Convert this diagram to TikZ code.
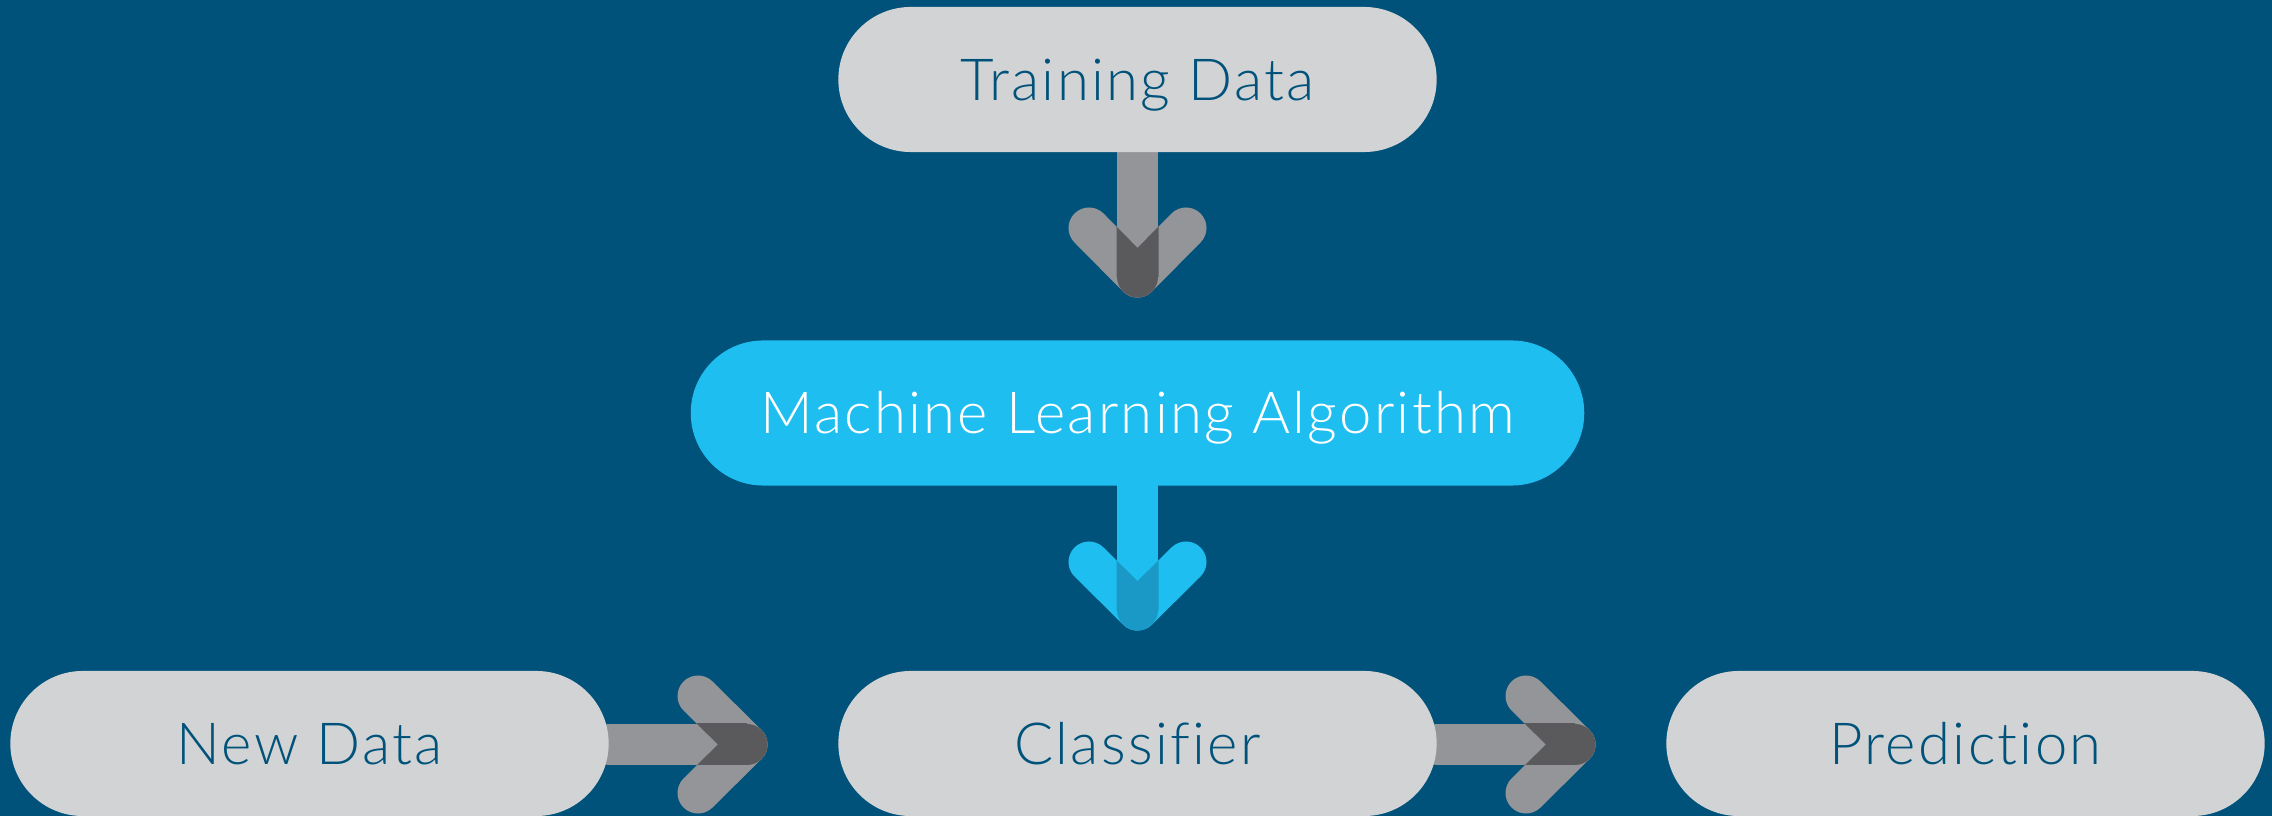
\documentclass[tikz,border=0pt]{standalone}
\usepackage{fontspec}
\setmainfont{Lato}[UprightFont=* Light, Ligatures={NoCommon}, LetterSpace=4]
\definecolor{bgblue}{HTML}{00527A}
\definecolor{pillgray}{HTML}{D1D3D4}
\definecolor{pillcyan}{HTML}{1EBEF0}
\definecolor{agray}{HTML}{939598}
\definecolor{adark}{HTML}{5A5A5C}
\definecolor{acyan}{HTML}{1EBEF0}
\definecolor{acyandark}{HTML}{1A99C6}
\pgfdeclarelayer{back}
\pgfsetlayers{back,main}
\begin{document}
\begin{tikzpicture}[x=0.01cm,y=-0.01cm,
  pill/.style={rectangle, rounded corners=0.725cm, fill=pillgray, text=bgblue,
    minimum width=5.98cm, minimum height=1.45cm, inner xsep=0pt, inner ysep=0pt,
    text height=11.7pt, text depth=0pt, font=\fontsize{16.5}{20}\selectfont},
  cyanpill/.style={fill=pillcyan, text=white},
  shaftline/.style={line width=0.41cm, line cap=round, draw=#1},
  armline/.style={line width=0.41cm, line cap=round, line join=round, draw=#1}]
\clip (0,0) rectangle (2272,816);

\node[pill] (td) at (1137.5,79.5) {Training Data};
\node[pill, cyanpill, minimum width=8.93cm] (ml) at (1137.5,413) {Machine Learning Algorithm};
\node[pill] (nd) at (309.5,743.5) {New Data};
\node[pill] (cl) at (1137.5,743.5) {Classifier};
\node[pill] (pr) at (1965.5,743.5) {Prediction};

\coordinate (t1) at (1137.5,277);
\coordinate (a1l) at (1089,228);
\coordinate (a1r) at (1186,228);
\coordinate (t2) at (1137.5,610);
\coordinate (a2l) at (1089,562);
\coordinate (a2r) at (1186,562);
\coordinate (t3) at (747,744.5);
\coordinate (a3u) at (698,696);
\coordinate (a3d) at (698,793);
\coordinate (t4) at (1575,744.5);
\coordinate (a4u) at (1526,696);
\coordinate (a4d) at (1526,793);

\begin{pgfonlayer}{back}
\fill[bgblue] (0,0) rectangle (2272,816);
% arrow 1
\draw[shaftline=agray] (td.south) -- (t1);
\draw[armline=agray] (a1l) -- (t1) -- (a1r);
\begin{scope}
  \clip (1116.5,140) rectangle (1158.5,277);
  \draw[armline=adark] (a1l) -- (t1) -- (a1r);
\end{scope}
\fill[adark] (t1) circle (0.205cm);
% arrow 2
\draw[shaftline=acyan] (ml.south) -- (t2);
\draw[armline=acyan] (a2l) -- (t2) -- (a2r);
\begin{scope}
  \clip (1116.5,470) rectangle (1158.5,610);
  \draw[armline=acyandark] (a2l) -- (t2) -- (a2r);
\end{scope}
\fill[acyandark] (t2) circle (0.205cm);
% arrow 3
\draw[shaftline=agray] (nd.east |- t3) -- (t3);
\draw[armline=agray] (a3u) -- (t3) -- (a3d);
\begin{scope}
  \clip (590,724) rectangle (747,765);
  \draw[armline=adark] (a3u) -- (t3) -- (a3d);
\end{scope}
\fill[adark] (t3) circle (0.205cm);
% arrow 4
\draw[shaftline=agray] (cl.east |- t4) -- (t4);
\draw[armline=agray] (a4u) -- (t4) -- (a4d);
\begin{scope}
  \clip (1420,724) rectangle (1575,765);
  \draw[armline=adark] (a4u) -- (t4) -- (a4d);
\end{scope}
\fill[adark] (t4) circle (0.205cm);
\end{pgfonlayer}
\end{tikzpicture}
\end{document}
